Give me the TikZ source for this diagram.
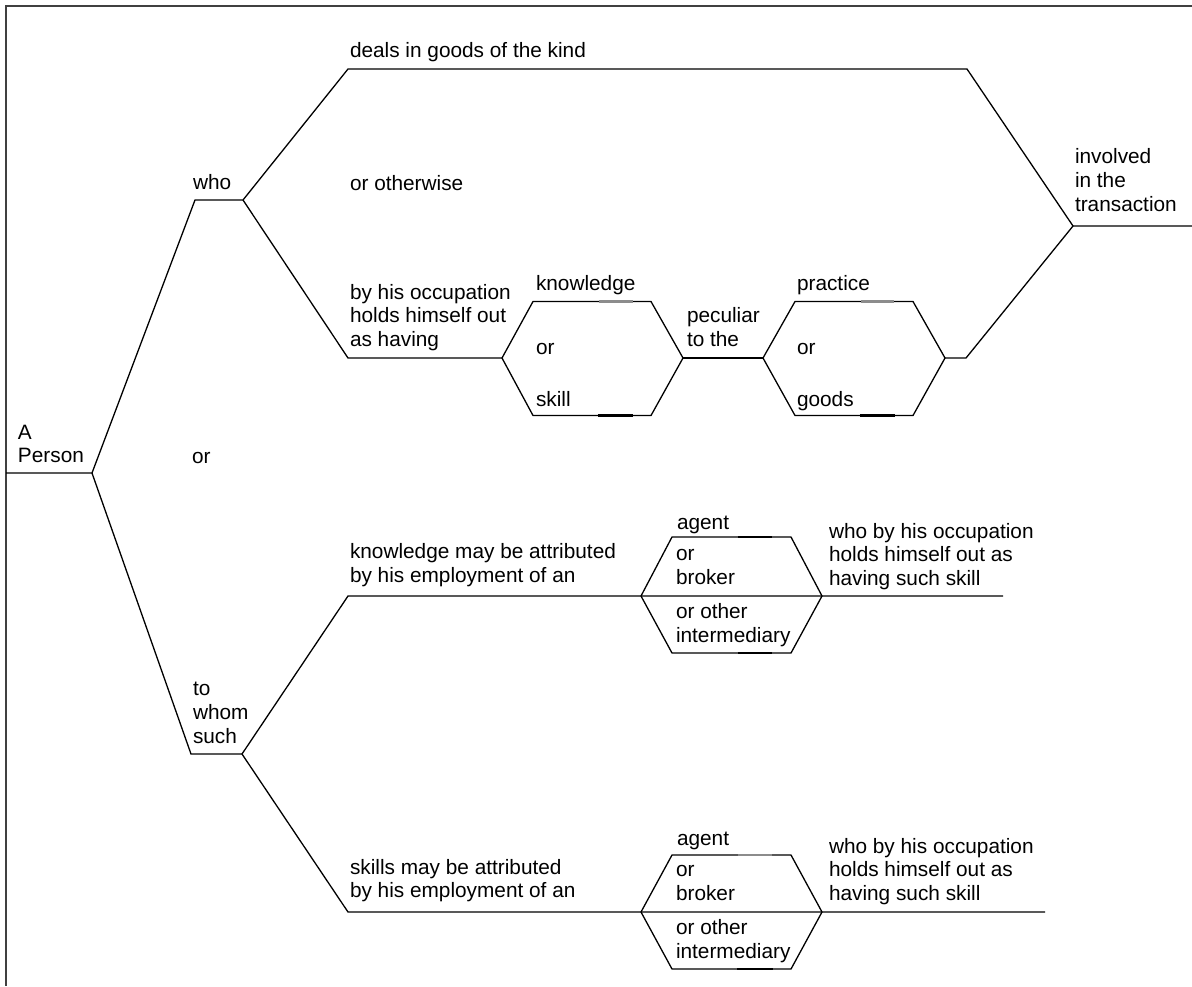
\documentclass[tikz,border=0pt]{standalone}
\usepackage{fontspec}
\setmainfont{Liberation Sans}
\begin{document}
\begin{tikzpicture}[x=0.5pt,y=-0.5pt,
  ln/.style={line width=0.65pt, black, line join=miter},
  lbl/.style={inner sep=0pt, outer sep=0pt, anchor=base west, align=left, font=\fontsize{10.4}{11.85}\selectfont},
  frm/.style={line width=1pt, black!75},
  markb/.style={line width=1.2pt, black},
  markg/.style={line width=1.2pt, black!45}]
\useasboundingbox (0,0) rectangle (1192,986);
% frame
\coordinate (f0) at (6,6); \coordinate (fr) at (1192,6); \coordinate (fb) at (6,986);
\draw[frm] (fr) -- (f0) -- (fb);
% upper branch coordinates
\coordinate (p0) at (6,473); \coordinate (j0) at (92,473);
\coordinate (w1) at (195,200); \coordinate (w2) at (243,200);
\coordinate (d1) at (348,69); \coordinate (d2) at (967,69);
\coordinate (o1) at (348,358);
\coordinate (h1l) at (502,358); \coordinate (h1a) at (533,301.5); \coordinate (h1b) at (651,301.5);
\coordinate (h1r) at (683,358); \coordinate (h1c) at (651,415.5); \coordinate (h1d) at (533,415.5);
\coordinate (h2l) at (763,358); \coordinate (h2a) at (795,301.5); \coordinate (h2b) at (913,301.5);
\coordinate (h2r) at (945,358); \coordinate (h2c) at (913,415.5); \coordinate (h2d) at (795,415.5);
\coordinate (r1) at (966,358); \coordinate (inv) at (1073,226); \coordinate (invE) at (1192,226);
\draw[ln] (p0) -- (j0) -- (w1) -- (w2) -- (d1) -- (d2) -- (inv) -- (invE);
\draw[ln] (w2) -- (o1) -- (h1l);
\draw[ln] (h1l) -- (h1a) -- (h1b) -- (h1r) -- (h1c) -- (h1d) -- cycle;
\draw[ln] (h1r) -- (h2l);
\draw[ln] (h2l) -- (h2a) -- (h2b) -- (h2r) -- (h2c) -- (h2d) -- cycle;
\draw[ln] (h2r) -- (r1) -- (inv);
% lower branch coordinates
\coordinate (t1) at (191,754); \coordinate (t2) at (242,754);
\coordinate (k1) at (348,596); \coordinate (k2) at (1003,596);
\coordinate (h3l) at (641,596); \coordinate (h3a) at (672,537); \coordinate (h3b) at (791,537);
\coordinate (h3r) at (822,596); \coordinate (h3c) at (791,653); \coordinate (h3d) at (672,653);
\coordinate (s1) at (348,912); \coordinate (s2) at (1045,912);
\coordinate (h4l) at (641,912); \coordinate (h4a) at (672,855); \coordinate (h4b) at (791,855);
\coordinate (h4r) at (822,912); \coordinate (h4c) at (791,969); \coordinate (h4d) at (672,969);
\draw[ln] (j0) -- (t1) -- (t2) -- (k1) -- (h3l) -- (h3r) -- (k2);
\draw[ln] (h3l) -- (h3a) -- (h3b) -- (h3r) -- (h3c) -- (h3d) -- cycle;
\draw[ln] (t2) -- (s1) -- (h4l) -- (h4r) -- (s2);
\draw[ln] (h4l) -- (h4a) -- (h4b) -- (h4r) -- (h4c) -- (h4d) -- cycle;
% small emphasised segments on the hexagon edges
\draw[markg] (599,301.5) -- (633,301.5);
\draw[markb] (598,415.5) -- (633,415.5);
\draw[markg] (861,301.5) -- (894,301.5);
\draw[markb] (860,415.5) -- (895,415.5);
\draw[markb] (738,537) -- (772,537);
\draw[markb] (738,653) -- (772,653);
\draw[markg] (738,855) -- (772,855);
\draw[markb] (737,969) -- (773,969);
% texts (multi-line nodes are placed by the baseline of their last line)
\node[lbl] (tdeals) at (350,57) {deals in goods of the kind};
\node[lbl] (totherwise) at (350,190) {or otherwise};
\node[lbl] (twho) at (193,189) {who};
\node[lbl] (tinv) at (1075,211) {involved\\in the\\transaction};
\node[lbl] (tocc) at (350,346.4) {by his occupation\\holds himself out\\as having};
\node[lbl] (tknow) at (536,290) {knowledge};
\node[lbl] (tor1) at (536,354) {or};
\node[lbl] (tskill) at (536,406) {skill};
\node[lbl] (tpec) at (687,346.4) {peculiar\\to the};
\node[lbl] (tprac) at (797,290) {practice};
\node[lbl] (tor2) at (797,354) {or};
\node[lbl] (tgoods) at (797,406.5) {goods};
\node[lbl] (tA) at (18,462.7) {A\\Person};
\node[lbl] (tor) at (192,463) {or};
\node[lbl] (tkma) at (350,582.5) {knowledge may be attributed\\by his employment of an};
\node[lbl] (tag3) at (677,529) {agent};
\node[lbl] (tob3) at (676,584) {or\\broker};
\node[lbl] (too3) at (676,642) {or other\\intermediary};
\node[lbl] (twho3) at (829,585.4) {who by his occupation\\holds himself out as\\having such skill};
\node[lbl] (tto) at (193,743.3) {to\\whom\\such};
\node[lbl] (tsma) at (350,897.7) {skills may be attributed\\by his employment of an};
\node[lbl] (tag4) at (677,845) {agent};
\node[lbl] (tob4) at (676,900) {or\\broker};
\node[lbl] (too4) at (676,958.3) {or other\\intermediary};
\node[lbl] (twho4) at (829,900.4) {who by his occupation\\holds himself out as\\having such skill};
\end{tikzpicture}
\end{document}
